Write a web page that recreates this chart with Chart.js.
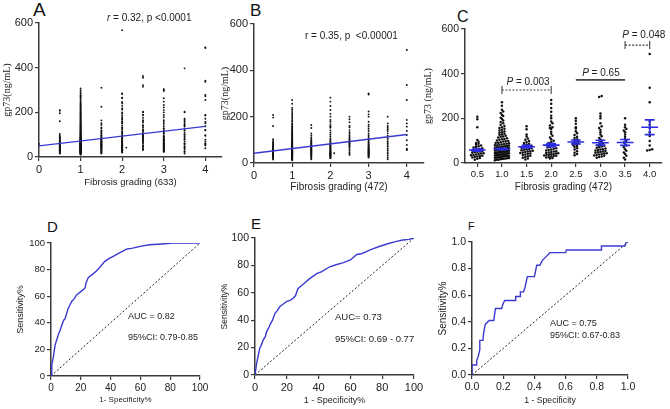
<!DOCTYPE html>
<html>
<head>
<meta charset="utf-8">
<script src="https://cdn.jsdelivr.net/npm/chart.js@4.4.1/dist/chart.umd.min.js"></script>
<style>
  html, body { margin: 0; padding: 0; background: #fff; }
  #fig { position: relative; width: 670px; height: 409px; overflow: hidden; font-family: 'Liberation Sans', Arial, sans-serif; }
  #fig canvas { position: absolute; }
  .tag { position: absolute; color: #111; line-height: 1; }
</style>
</head>
<body>
<div id="fig">
  <div class="tag" style="left:33px;top:0px;font-size:19px">A</div>
  <div class="tag" style="left:250px;top:2px;font-size:17px">B</div>
  <div class="tag" style="left:457px;top:9px;font-size:16px">C</div>
  <div class="tag" style="left:47px;top:219px;font-size:15px">D</div>
  <div class="tag" style="left:251px;top:216px;font-size:15px">E</div>
  <div class="tag" style="left:468px;top:221px;font-size:11px">F</div>
  <canvas id="cA"></canvas>
  <canvas id="cB"></canvas>
  <canvas id="cC"></canvas>
  <canvas id="cD"></canvas>
  <canvas id="cE"></canvas>
  <canvas id="cF"></canvas>
</div>
<script>
// ---------------------------------------------------------------
// gp73 vs fibrosis grade (A, B, C) and ROC curves (D, E, F)
// ---------------------------------------------------------------

// gp73 (ng/mL) per fibrosis grade, cohort of 472 (panels B and C)
const grades = [0.5, 1.0, 1.5, 2.0, 2.5, 3.0, 3.5, 4.0];
const g05 = [207, 196, 160, 103, 95, 90, 86, 82, 78, 75, 72, 69, 66, 63, 60, 58, 56, 54, 52, 50, 48, 46, 44, 42, 40, 38, 36, 35, 33, 31, 29, 27, 25, 22, 19, 15];
const g10 = [272, 256, 238, 231, 224, 216, 210, 203, 197, 190, 184, 178, 171, 166, 160, 157, 153, 149, 146, 141, 138, 135, 131, 128, 126, 122, 119, 117, 114, 111, 108, 106, 104, 101, 99, 97, 96, 93, 91, 90, 88, 86, 85, 83, 82, 80, 79, 78, 76, 75, 74, 72, 71, 70, 69, 68, 67, 66, 65, 64, 63, 62, 62, 61, 60, 59, 58, 58, 57, 56, 55, 55, 54, 53, 52, 52, 51, 50, 49, 49, 48, 47, 46, 46, 45, 44, 44, 43, 42, 41, 41, 40, 39, 38, 38, 37, 36, 36, 35, 34, 33, 33, 32, 31, 30, 30, 29, 28, 27, 26, 26, 25, 24, 23, 22, 21, 20, 19, 18, 17, 15, 14, 12];
const g15 = [164, 151, 128, 119, 110, 104, 98, 94, 90, 86, 83, 80, 77, 75, 72, 70, 68, 66, 63, 61, 59, 57, 55, 53, 51, 49, 47, 45, 43, 41, 38, 36, 33, 30, 27, 24, 20, 16];
const g20 = [282, 265, 246, 229, 212, 200, 186, 178, 168, 160, 157, 152, 140, 131, 122, 114, 106, 100, 95, 90, 86, 82, 78, 75, 72, 69, 66, 64, 61, 58, 56, 53, 51, 49, 47, 45, 44, 42, 40, 39, 37, 36, 34, 33, 31, 29, 27, 25, 22, 20];
const g25 = [200, 189, 176, 160, 154, 142, 133, 125, 118, 112, 106, 101, 97, 93, 90, 87, 84, 80, 76, 72, 66, 60, 53, 46, 40, 35];
const g30 = [300, 296, 222, 210, 200, 178, 165, 157, 148, 138, 128, 120, 112, 105, 98, 92, 88, 84, 80, 77, 74, 71, 68, 65, 62, 60, 58, 56, 54, 52, 50, 48, 46, 44, 42, 40, 38, 36, 34, 32, 29, 27, 24];
const g35 = [200, 171, 160, 152, 146, 138, 128, 118, 108, 100, 92, 85, 78, 70, 62, 55, 47, 40, 32, 24, 16];
const g40 = [488, 337, 272, 186, 171, 157, 138, 121, 98, 78, 62, 58, 56];
const cohort472 = [g05, g10, g15, g20, g25, g30, g35, g40];
const strayGrade = [2.1];
const strayValue = [42];

// extra patients that only appear in the full cohort of 633 (panel A)
const extraGrades = [0, 0.5, 1.0, 1.5, 2.0, 2.5, 3.0, 3.5, 4.0];
const x00 = [58];
const x05 = [210, 88, 64, 49, 33, 21];
const x10 = [307, 298, 290, 282, 276, 268, 262, 250, 244, 236, 229, 221, 214, 207, 200, 193, 187, 181, 175, 169, 162, 155, 147, 139, 133, 125, 117, 109, 102, 94, 87, 81, 73, 66, 58, 51, 45, 38, 31, 24, 17, 11];
const x15 = [310, 225, 143, 132, 115, 97, 82, 68, 54, 41, 29, 18];
const x20 = [568, 285, 263, 240, 218, 195, 172, 150, 130, 110, 90, 70, 52, 35, 24];
const x25 = [363, 355, 322, 315, 203, 188, 165, 140, 120, 100, 70, 50, 31];
const x30 = [304, 263, 248, 233, 188, 128, 110, 92, 75, 60, 45, 30, 24];
const x35 = [397, 203, 166, 140, 120, 100, 80, 60, 40, 24];
const x40 = [491, 342, 278, 255, 188, 151, 120, 95, 70, 52, 39];
const extra633 = [x00, x05, x10, x15, x20, x25, x30, x35, x40];

// linear regression lines (value at grade 0 and grade 4)
const regX = [0, 4];
const regA = [50, 137];
const regB = [42, 123];

// panel C: mean +/- SEM per grade
const meanC = [58, 63, 73, 80, 94, 91, 92, 160];
const semC = [5, 3, 6, 7, 9, 11, 13, 33];

// ROC curves
const rocD_fpr = [0, 0.5, 1.6, 2.7, 4.9, 6, 7.2, 8.5, 9.4, 10.5, 11.6, 13.9, 15.5, 17.2, 20.6, 22.8, 23.5, 25, 28.4, 30.5, 32.9, 36, 38.5, 41.8, 45, 48.5, 51, 54, 60, 66, 74, 82, 90, 100];
const rocD_tpr = [0, 8, 14.6, 23, 31, 34, 38, 42, 43, 47, 51, 56, 58, 61, 64, 66, 70, 74, 77, 79, 82, 86, 88, 90, 92, 94, 95.5, 96, 97.5, 98.7, 99.3, 100, 100, 100];
const rocE_fpr = [0, 1, 2, 3, 4, 5.2, 6.5, 7.3, 8.5, 9.4, 11, 12.6, 14, 15.7, 18, 20, 22, 24, 25.5, 27, 29, 31, 34, 38.8, 42, 47, 51, 55.6, 60, 64, 67, 70, 74, 78.6, 84, 89, 93, 97, 100];
const rocE_tpr = [0, 8.5, 14, 19.5, 22, 25.6, 28, 31.7, 34, 36.6, 40, 45, 47, 50, 52, 53.7, 54.5, 56, 58, 63, 65, 67, 70, 74, 75.5, 79, 80.5, 82, 84, 88, 88.5, 90, 92, 94, 96, 97.5, 98.5, 99, 100];
const rocF_fpr = [0, 0, 0.03, 0.03, 0.04, 0.05, 0.05, 0.07, 0.075, 0.085, 0.11, 0.14, 0.15, 0.19, 0.2, 0.21, 0.28, 0.28, 0.31, 0.31, 0.33, 0.34, 0.355, 0.4, 0.415, 0.435, 0.45, 0.475, 0.5, 0.6, 0.605, 0.83, 0.83, 0.98, 0.99, 1];
const rocF_tpr = [0, 0.075, 0.075, 0.11, 0.14, 0.19, 0.26, 0.26, 0.32, 0.38, 0.41, 0.41, 0.5, 0.5, 0.54, 0.56, 0.56, 0.59, 0.59, 0.625, 0.625, 0.66, 0.74, 0.74, 0.825, 0.825, 0.86, 0.89, 0.92, 0.92, 0.94, 0.94, 0.97, 0.97, 1.0, 1.0];

// -------------------------------------------------------------------
const SANS = "'Liberation Sans', Arial, sans-serif";
const SERIF = "'Liberation Serif', 'Times New Roman', serif";
const BLUE = '#3a3ad0';
const AXIS = '#3a3a3a';

Chart.defaults.font.family = SANS;
Chart.defaults.color = '#222';

// text annotations, anchored in data units
const notes = {
  cA: [{ x: 2.65, y: 622, size: 10, parts: [['r', true], [' = 0.32, p <0.0001', false]] }],
  cB: [{ x: 2.55, y: 545, size: 10, parts: [['r = 0.35, p  <0.00001', false]] }],
  cC: [
    { x: 1.53, y: 363, size: 10, parts: [['P', true], [' = 0.003', false]] },
    { x: 3.01, y: 403, size: 10, parts: [['P', true], [' = 0.65', false]] },
    { x: 3.88, y: 573, size: 10, parts: [['P', true], [' = 0.048', false]] }
  ],
  cD: [
    { x: 51.7, y: 44.4, size: 9, align: 'left', parts: [['AUC = 0.82', false]] },
    { x: 51.7, y: 28.6, size: 9, align: 'left', parts: [['95%CI: 0.79-0.85', false]] }
  ],
  cE: [
    { x: 50.3, y: 42.3, size: 9.5, align: 'left', parts: [['AUC= 0.73', false]] },
    { x: 50.3, y: 26.3, size: 9.5, align: 'left', parts: [['95%CI: 0.69 - 0.77', false]] }
  ],
  cF: [
    { x: 0.5, y: 0.39, size: 9, align: 'left', parts: [['AUC = 0.75', false]] },
    { x: 0.5, y: 0.30, size: 9, align: 'left', parts: [['95%CI: 0.67-0.83', false]] }
  ]
};

// comparison brackets in panel C
const bracketsC = [
  { from: 1.0, to: 2.0, at: 327, dashed: true, ends: true },
  { from: 2.5, to: 3.5, at: 372, dashed: false, ends: false },
  { from: 3.5, to: 4.0, at: 528, dashed: true, ends: true }
];

const notePlugin = {
  id: 'notes',
  afterDatasetsDraw(chart) {
    const { ctx, scales: { x, y } } = chart;
    ctx.save();
    ctx.fillStyle = '#222';
    ctx.textBaseline = 'middle';
    ctx.textAlign = 'left';
    (notes[chart.canvas.id] || []).forEach(n => {
      const fonts = n.parts.map(p => (p[1] ? 'italic ' : '') + n.size + 'px ' + SANS);
      const widths = n.parts.map((p, i) => { ctx.font = fonts[i]; return ctx.measureText(p[0]).width; });
      const total = widths.reduce((a, b) => a + b, 0);
      let px = x.getPixelForValue(n.x);
      if (n.align !== 'left') px -= total / 2;
      const py = y.getPixelForValue(n.y);
      n.parts.forEach((p, i) => {
        ctx.font = fonts[i];
        ctx.fillText(p[0], px, py);
        px += widths[i];
      });
    });
    if (chart.canvas.id === 'cC') {
      ctx.strokeStyle = '#444';
      bracketsC.forEach(b => {
        const x1 = x.getPixelForValue(b.from);
        const x2 = x.getPixelForValue(b.to);
        const py = y.getPixelForValue(b.at);
        ctx.setLineDash(b.dashed ? [2, 1.5] : []);
        ctx.lineWidth = b.dashed ? 1.1 : 1.8;
        ctx.beginPath(); ctx.moveTo(x1, py); ctx.lineTo(x2, py); ctx.stroke();
        if (b.ends) {
          ctx.setLineDash([]);
          ctx.lineWidth = 1.1;
          ctx.beginPath();
          ctx.moveTo(x1, py - 4); ctx.lineTo(x1, py + 4);
          ctx.moveTo(x2, py - 4); ctx.lineTo(x2, py + 4);
          ctx.stroke();
        }
      });
    }
    ctx.restore();
  }
};

function explicitTicks(values) {
  return scale => { scale.ticks = values.map(v => ({ value: v })); };
}

function axis(opts) {
  return {
    type: 'linear',
    min: opts.min,
    max: opts.max,
    afterBuildTicks: explicitTicks(opts.ticks),
    grid: { drawOnChartArea: false, drawTicks: true, tickLength: 4, color: AXIS, lineWidth: 1.2 },
    border: { display: true, color: AXIS, width: 1.5 },
    ticks: {
      font: { size: opts.tickSize },
      color: '#222',
      padding: 2,
      maxRotation: 0,
      callback: opts.fmt || (v => String(v))
    },
    title: {
      display: true,
      text: opts.title,
      font: { size: opts.titleSize, family: opts.titleFamily || SANS },
      color: '#222',
      padding: opts.titlePad
    }
  };
}

function panel(id, box, area, scales, datasets) {
  const cv = document.getElementById(id);
  cv.width = box.w;
  cv.height = box.h;
  cv.style.left = box.x + 'px';
  cv.style.top = box.y + 'px';
  const yW = area.l - box.x;
  const xH = box.y + box.h - area.b;
  scales.x.afterFit = s => { s.height = xH; };
  scales.y.afterFit = s => { s.width = yW; };
  return new Chart(cv, {
    type: 'scatter',
    data: { datasets },
    options: {
      responsive: false,
      animation: false,
      events: [],
      layout: { padding: { left: 0, bottom: 0, top: area.t - box.y, right: box.x + box.w - area.r } },
      plugins: { legend: { display: false }, tooltip: { enabled: false } },
      scales
    },
    plugins: [notePlugin]
  });
}

// column points (no jitter)
function columnPoints(gradeList, groups) {
  const pts = [];
  groups.forEach((vals, i) => vals.forEach(v => pts.push({ x: gradeList[i], y: v })));
  return pts;
}

// simple beeswarm: values in a horizontal band share a row and are spread symmetrically
function swarm(center, vals, dotPx, halfPx, pxPerX, pxPerY) {
  const rowH = dotPx / pxPerY;
  const rows = new Map();
  vals.slice().sort((a, b) => a - b).forEach(v => {
    const k = Math.floor(v / rowH);
    if (!rows.has(k)) rows.set(k, []);
    rows.get(k).push(v);
  });
  const pts = [];
  rows.forEach(row => {
    const n = row.length;
    const step = n > 1 ? Math.min(dotPx, (2 * halfPx) / (n - 1)) : 0;
    row.forEach((v, i) => {
      const off = (i - (n - 1) / 2) * step;
      pts.push({ x: center + off / pxPerX, y: v });
    });
  });
  return pts;
}

function lineSet(xs, ys, color, width, dash) {
  return {
    type: 'line',
    data: xs.map((xv, i) => ({ x: xv, y: ys[i] })),
    borderColor: color,
    borderWidth: width,
    borderDash: dash || [],
    pointRadius: 0,
    tension: 0,
    fill: false
  };
}

function dotSet(points, r) {
  return {
    data: points,
    pointRadius: r,
    pointBackgroundColor: '#111',
    pointBorderWidth: 0,
    borderWidth: 0
  };
}

const gradeTicks = [0, 1, 2, 3, 4];

// ---------------- A ----------------
const ptsA = columnPoints(grades, cohort472)
  .concat(columnPoints(extraGrades, extra633))
  .concat(strayGrade.map((g, i) => ({ x: g, y: strayValue[i] })));
panel('cA', { x: 0, y: 0, w: 232, h: 195 }, { l: 39, t: 23, r: 222, b: 157 }, {
  x: axis({ min: 0, max: 4.4, ticks: gradeTicks, tickSize: 11, title: 'Fibrosis grading (633)', titleSize: 9.5, titlePad: { top: 0, bottom: 7 } }),
  y: axis({ min: 0, max: 600, ticks: [0, 200, 400, 600], tickSize: 11, title: 'gp73(ng/mL)', titleSize: 10, titleFamily: SERIF, titlePad: { top: 1, bottom: 0 } })
}, [
  lineSet(regX, regA, BLUE, 1.3),
  dotSet(ptsA, 0.95)
]);

// ---------------- B ----------------
const ptsB = columnPoints(grades, cohort472)
  .concat(strayGrade.map((g, i) => ({ x: g, y: strayValue[i] })));
panel('cB', { x: 218, y: 0, w: 214, h: 200 }, { l: 254, t: 24, r: 424, b: 163 }, {
  x: axis({ min: 0, max: 4.45, ticks: gradeTicks, tickSize: 11, title: 'Fibrosis grading (472)', titleSize: 10, titlePad: { top: 0, bottom: 7 } }),
  y: axis({ min: 0, max: 600, ticks: [0, 200, 400, 600], tickSize: 11, title: 'gp73(ng/mL)', titleSize: 10, titleFamily: SERIF, titlePad: { top: 1, bottom: 0 } })
}, [
  lineSet(regX, regB, BLUE, 1.3),
  dotSet(ptsB, 0.95)
]);

// ---------------- C ----------------
const pxPerXC = 197 / 4.0;
const pxPerYC = 134 / 600;
let ptsC = [];
cohort472.forEach((vals, i) => { ptsC = ptsC.concat(swarm(grades[i], vals, 2.5, 7, pxPerXC, pxPerYC)); });
const meanSemPts = [];
grades.forEach((g, i) => {
  const m = meanC[i], s = semC[i];
  meanSemPts.push({ x: g - 0.17, y: m }, { x: g + 0.17, y: m }, { x: g, y: null });
  meanSemPts.push({ x: g, y: m - s }, { x: g, y: m + s }, { x: g, y: null });
  meanSemPts.push({ x: g - 0.1, y: m + s }, { x: g + 0.1, y: m + s }, { x: g, y: null });
  meanSemPts.push({ x: g - 0.1, y: m - s }, { x: g + 0.1, y: m - s }, { x: g, y: null });
});
panel('cC', { x: 422, y: 0, w: 248, h: 200 }, { l: 465, t: 29, r: 662, b: 163 }, {
  x: axis({ min: 0.25, max: 4.25, ticks: grades, tickSize: 9.5, fmt: v => Number(v).toFixed(1), title: 'Fibrosis grading (472)', titleSize: 10, titlePad: { top: 0, bottom: 7 } }),
  y: axis({ min: 0, max: 600, ticks: [0, 200, 400, 600], tickSize: 10.5, title: 'gp73 (ng/mL)', titleSize: 10, titleFamily: SERIF, titlePad: { top: 0, bottom: 0 } })
}, [
  { type: 'line', data: meanSemPts, borderColor: '#2b2be6', borderWidth: 1.6, pointRadius: 0, spanGaps: false, tension: 0 },
  dotSet(ptsC, 1.25)
]);

// ---------------- D, E, F (ROC) ----------------
const pctTicks = [0, 20, 40, 60, 80, 100];
const fracTicks = [0, 0.2, 0.4, 0.6, 0.8, 1.0];

panel('cD', { x: 10, y: 205, w: 205, h: 204 }, { l: 51, t: 243, r: 200, b: 376 }, {
  x: axis({ min: 0, max: 100, ticks: pctTicks, tickSize: 10, title: '1- Specificity%', titleSize: 8, titlePad: { top: 0, bottom: 4 } }),
  y: axis({ min: 0, max: 100, ticks: pctTicks, tickSize: 9.5, title: 'Sensitivity%', titleSize: 9, titlePad: { top: 5.5, bottom: 0 } })
}, [
  lineSet(rocD_fpr, rocD_tpr, BLUE, 1.4),
  lineSet([0, 100], [0, 100], '#222', 1, [2, 2])
]);

panel('cE', { x: 218, y: 205, w: 212, h: 204 }, { l: 255, t: 238, r: 414, b: 375 }, {
  x: axis({ min: 0, max: 100, ticks: pctTicks, tickSize: 11, title: '1 - Specificity%', titleSize: 9, titlePad: { top: 0, bottom: 3.5 } }),
  y: axis({ min: 0, max: 100, ticks: pctTicks, tickSize: 10.5, title: 'Sensitivity%', titleSize: 8.5, titlePad: { top: 2, bottom: 0 } })
}, [
  lineSet(rocE_fpr, rocE_tpr, BLUE, 1.4),
  lineSet([0, 100], [0, 100], '#222', 1, [2, 2])
]);

panel('cF', { x: 437, y: 205, w: 231, h: 204 }, { l: 472, t: 242, r: 628, b: 375 }, {
  x: axis({ min: 0, max: 1, ticks: fracTicks, tickSize: 10.5, fmt: v => Number(v).toFixed(1), title: '1 - Specificity', titleSize: 8.7, titlePad: { top: 0, bottom: 3.5 } }),
  y: axis({ min: 0, max: 1, ticks: fracTicks, tickSize: 10.5, fmt: v => Number(v).toFixed(1), title: 'Sensitivity%', titleSize: 10, titlePad: { top: 0.5, bottom: 0 } })
}, [
  lineSet(rocF_fpr, rocF_tpr, BLUE, 1.4),
  lineSet([0, 1], [0, 1], '#222', 1, [2, 2])
]);
</script>
</body>
</html>
